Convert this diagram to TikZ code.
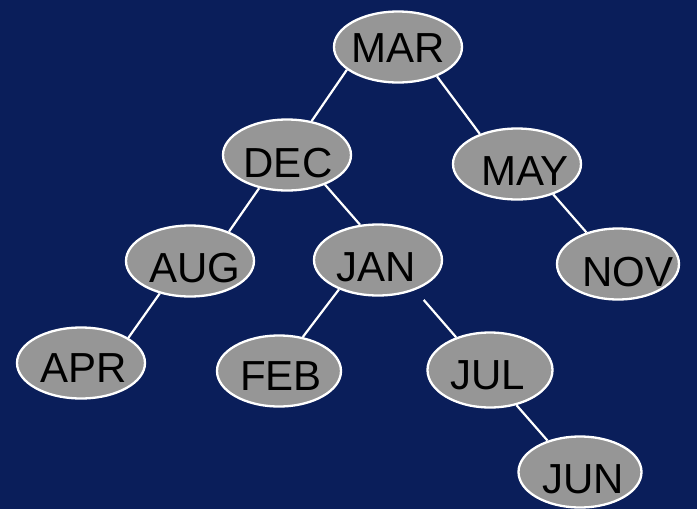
\documentclass[tikz,border=0pt]{standalone}
\usepackage{fontspec}
\setmainfont{Liberation Sans}
\usetikzlibrary{shapes.geometric}
\definecolor{navy}{RGB}{10,30,90}
\definecolor{ovalgray}{RGB}{150,150,150}
\begin{document}
\begin{tikzpicture}[x=1pt,y=-1pt,
  oval/.style={ellipse, draw=white, line width=2.3pt, fill=ovalgray,
    minimum width=128pt, minimum height=71pt, inner sep=0pt},
  word/.style={font=\fontsize{42}{42}\selectfont, text=black, inner sep=0pt},
  link/.style={draw=white, line width=2.2pt}]
  \fill[navy] (0,0) rectangle (697,509);
  \useasboundingbox (0,0) rectangle (697,509);

  % tree nodes (ovals)
  \node[oval] (mar) at (398,47) {};
  \node[oval] (dec) at (287,155) {};
  \node[oval] (may) at (517,164) {};
  \node[oval] (aug) at (190,261) {};
  \node[oval] (jan) at (378,260) {};
  \node[oval, minimum width=122pt] (nov) at (618,264) {};
  \node[oval] (apr) at (81,363) {};
  \node[oval, minimum width=124pt] (feb) at (279,371) {};
  \node[oval, minimum width=125pt, minimum height=75pt] (jul) at (490,370) {};
  \node[oval, minimum width=123pt] (jun) at (580,472) {};

  % month labels
  \node[word] (mar-t) at (398,48) {MAR};
  \node[word] (dec-t) at (288,163) {DEC};
  \node[word] (may-t) at (525,171) {MAY};
  \node[word] (aug-t) at (195,268) {AUG};
  \node[word] (jan-t) at (376,267) {JAN};
  \node[word] (nov-t) at (628,272) {NOV};
  \node[word] (apr-t) at (84,368) {APR};
  \node[word] (feb-t) at (281,376) {FEB};
  \node[word] (jul-t) at (488,375) {JUL};
  \node[word] (jun-t) at (583,479) {JUN};

  % branches
  \path[link] (mar.204) -- (dec.54);
  \path[link] (mar.-37) -- (may.141);
  \path[link] (dec.230) -- (aug.37);
  \path[link] (dec.-38) -- (jan.117);
  \path[link] (may.-40) -- (nov.135);
  \path[link] (aug.227) -- (apr.28);
  \path[link] (jan.217) -- (feb.55);
  \path[link, shorten <=13pt] (jan.-39) -- (jul.136);
  \path[link] (jul.-53) -- (jun.136);
\end{tikzpicture}
\end{document}
